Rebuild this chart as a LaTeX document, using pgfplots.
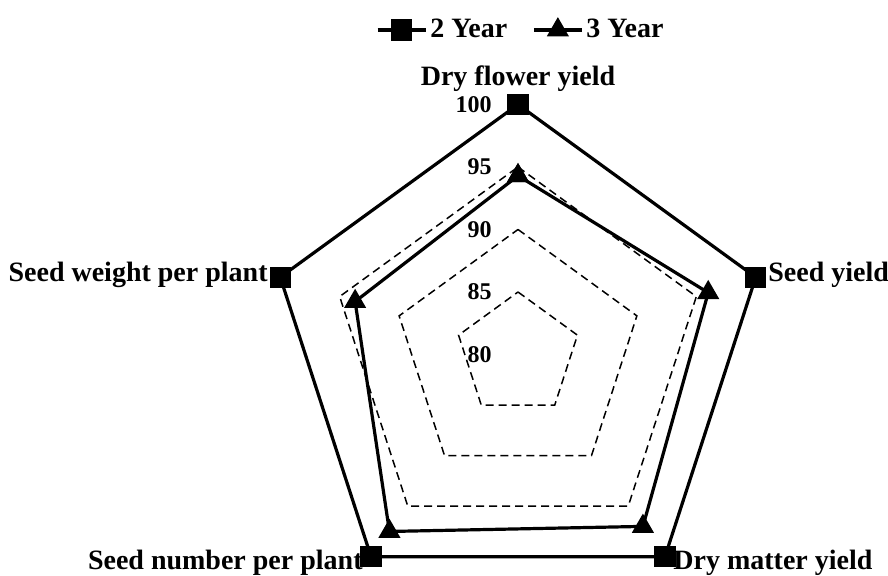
\documentclass[border=0pt]{standalone}
\usepackage{pgfplots}
\pgfplotsset{compat=1.18}
\usepackage{pgfplotstable}
\usepackage{fontspec}
\setmainfont{Liberation Serif}

% angle (deg) and value of each category; first row repeated to close
\pgfplotstableread{
a v
90 100
18 100
-54 100
-126 100
162 100
90 100
}\twoyear
\pgfplotstableread{
a v
90 94.3
18 96.0
-54 97.0
-126 97.5
162 93.7
90 94.3
}\threeyear
\pgfplotstableread{
a g85 g90 g95
90 85 90 95
18 85 90 95
-54 85 90 95
-126 85 90 95
162 85 90 95
90 85 90 95
}\gridtab

\tikzset{ticklab/.style={anchor=east, inner sep=0pt, font=\fontsize{12}{14}\selectfont\bfseries},
  catlab/.style={inner sep=0pt, font=\fontsize{14}{16}\selectfont\bfseries}}

\begin{document}
\begin{tikzpicture}
\begin{axis}[
  width=444pt, height=288pt, scale only axis,
  xmin=-41.44, xmax=29.6, ymin=-17.72, ymax=28.36,
  axis lines=none, clip=false,
  legend columns=2,
  legend style={at={(0.587,0.948)}, anchor=center, draw=none, fill=none,
    font=\fontsize{14}{16}\selectfont\bfseries,
    /tikz/every even column/.append style={column sep=11pt},
    inner sep=0pt, nodes={inner sep=1.5pt}},
  legend image code/.code={\draw[mark repeat=2,mark phase=2,#1] plot coordinates {(0pt,0pt)(12pt,0pt)(24pt,0pt)};},
]
\coordinate (BL) at (rel axis cs:0,0);
\coordinate (TR) at (rel axis cs:1,1);
\addplot[data cs=polar, black, line width=0.75pt, dash pattern=on 4pt off 2.5pt, forget plot] table[x=a, y expr=\thisrow{g85}-80] {\gridtab};
\addplot[data cs=polar, black, line width=0.75pt, dash pattern=on 4pt off 2.5pt, forget plot] table[x=a, y expr=\thisrow{g90}-80] {\gridtab};
\addplot[data cs=polar, black, line width=0.75pt, dash pattern=on 4pt off 2.5pt, forget plot] table[x=a, y expr=\thisrow{g95}-80] {\gridtab};
\addplot[data cs=polar, black, line width=1.6pt, mark=square*, mark size=4.5pt, mark options={solid}] table[x=a, y expr=\thisrow{v}-80] {\twoyear};
\addlegendentry{2 Year}
\addplot[data cs=polar, black, line width=1.6pt, mark=triangle*, mark size=4.8pt, mark options={solid}] table[x=a, y expr=\thisrow{v}-80] {\threeyear};
\addlegendentry{3 Year}
% category labels
\node[catlab, anchor=base] at (axis cs:0,21.48) {Dry flower yield};
\node[catlab, anchor=base west] at (axis cs:20,5.8) {Seed yield};
\node[catlab, anchor=base east] at (axis cs:-20,5.8) {Seed weight per plant};
\node[catlab, anchor=base east] at (axis cs:-12.4,-17.24) {Seed number per plant};
\node[catlab, anchor=base west] at (axis cs:12.4,-17.24) {Dry matter yield};
% radial tick labels
\node[ticklab] at (axis cs:-2.08,20) {100};
\node[ticklab] at (axis cs:-2.08,15) {95};
\node[ticklab] at (axis cs:-2.08,10) {90};
\node[ticklab] at (axis cs:-2.08,5) {85};
\node[ticklab] at (axis cs:-2.08,0) {80};
\end{axis}
\pgfresetboundingbox
\path[use as bounding box] (BL) rectangle (TR);
\end{tikzpicture}
\end{document}
